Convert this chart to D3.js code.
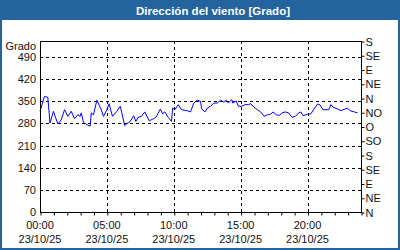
<!DOCTYPE html>
<html>
<head>
<meta charset="utf-8">
<script src="https://cdn.jsdelivr.net/npm/d3@7"></script>
<style>
  html, body { margin: 0; padding: 0; background: #fff; }
  svg { display: block; font-family: "Liberation Sans", Arial, sans-serif; }
</style>
</head>
<body>
<svg id="chart" width="400" height="250"></svg>
<script>
const W = 400
const H = 250
const title = 'Dirección del viento [Grado]'
const unitLabel = 'Grado'
const day = '2025-10-23'

// readings (time of day, degrees)
const times = ['00:00','00:20','00:35','00:45','01:00','01:20','01:35','01:50','02:05','02:20','02:35','02:50','03:00','03:05','03:15','03:35','03:45','03:50','04:00','04:15','04:35','04:45','05:00','05:10','05:25','05:45','06:00','06:20','06:30','06:45','07:00','07:10','07:20','07:35','07:50','08:10','08:30','08:40','09:00','09:10','09:20','09:35','09:50','09:55','10:05','10:20','10:35','11:00','11:15','11:30','11:45','12:00','12:05','12:20','12:30','12:45','13:00','13:15','13:30','13:45','13:55','14:05','14:20','14:25','14:40','14:50','15:05','15:20','15:35','15:45','16:00','16:15','16:30','16:45','17:00','17:15','17:25','17:40','17:55','18:05','18:20','18:35','18:50','19:05','19:20','19:30','19:40','20:00','20:15','20:30','20:45','20:55','21:10','21:35','21:45','21:55','22:15','22:30','22:40','23:00','23:10','23:30','23:45']
const values = [318,365,362,281,318,278,291,323,302,318,295,307,302,313,283,274,271,313,307,353,323,302,323,342,302,318,334,273,279,286,304,286,299,302,316,288,295,299,325,310,316,299,286,328,323,339,323,320,316,344,353,350,326,316,328,334,344,344,353,347,353,344,355,344,351,334,334,339,339,342,331,323,316,302,307,309,316,307,305,313,316,313,299,302,313,316,304,309,310,326,341,339,323,323,339,331,325,320,323,328,320,316,313]

const leftTicks = [0, 70, 140, 210, 280, 350, 420, 490]
const compassTicks = [0, 45, 90, 135, 180, 225, 270, 315, 360, 405, 450, 495, 540]
const compassLabels = ['N','NE','E','SE','S','SO','O','NO','N','NE','E','SE','S']
const xTickHours = [0, 5, 10, 15, 20]

const parse = d3.timeParse('%Y-%m-%d %H:%M')
const t0 = parse(day + ' 00:00')
const t1 = d3.timeDay.offset(t0, 1)
const data = times.map((t, i) => ({ t: parse(day + ' ' + t), v: values[i] }))

const svg = d3.select('#chart')
const L = 40, R = 361, T = 41, B = 212

const x = d3.scaleTime().domain([t0, t1]).range([L, R])
const y = d3.scaleLinear().domain([0, 540]).range([B, T])
const px = v => Math.round(v) + 0.5

// frame + title bar
svg.append('rect').attr('width', W).attr('height', H).attr('fill', '#fff')
svg.append('rect').attr('x', 1).attr('y', 1).attr('width', W - 2).attr('height', H - 2)
    .attr('fill', 'none').attr('stroke', '#24649e').attr('stroke-width', 2)
svg.append('rect').attr('width', W).attr('height', 20).attr('fill', '#24649e')
svg.append('text')
    .attr('x', 213).attr('y', 15)
    .attr('text-anchor', 'middle')
    .attr('fill', '#fff').attr('font-weight', 'bold').attr('font-size', '11.5px')
    .text(title)

// grid
const grid = svg.append('g').attr('stroke', '#000').attr('stroke-dasharray', '3 3')
grid.selectAll('.hg').data(leftTicks.slice(1)).enter().append('line')
    .attr('x1', L).attr('x2', R)
    .attr('y1', d => px(y(d))).attr('y2', d => px(y(d)))
grid.selectAll('.vg').data(xTickHours.slice(1)).enter().append('line')
    .attr('x1', d => px(x(d3.timeHour.offset(t0, d)))).attr('x2', d => px(x(d3.timeHour.offset(t0, d))))
    .attr('y1', T).attr('y2', B)

// series
svg.append('path')
    .datum(data)
    .attr('fill', 'none')
    .attr('stroke', '#0000ff')
    .attr('stroke-width', 1)
    .attr('d', d3.line().x(d => x(d.t)).y(d => y(d.v)))

// plot border
svg.append('rect')
    .attr('x', px(L)).attr('y', px(T)).attr('width', R - L).attr('height', B - T)
    .attr('fill', 'none').attr('stroke', '#000')

// left axis labels
const lab = svg.append('g').attr('font-size', '11px').attr('fill', '#111')
lab.selectAll('.yl').data(leftTicks).enter().append('text')
    .attr('x', 36).attr('y', d => y(d) + 4)
    .attr('text-anchor', 'end')
    .text(d => d)
lab.append('text').attr('x', 36).attr('y', 50).attr('text-anchor', 'end').text(unitLabel)

// right compass axis
svg.append('g')
    .attr('transform', `translate(${px(R)},0.5)`)
    .call(d3.axisRight(y).tickValues(compassTicks).tickSize(3).tickPadding(1)
        .tickFormat((d, i) => compassLabels[i]))
    .call(g => g.select('.domain').remove())
    .call(g => g.selectAll('text').attr('font-family', null).attr('font-size', '11px').attr('fill', '#111'))

// bottom axis: hourly ticks, labels every 5 h
svg.append('g')
    .attr('transform', `translate(0.5,${px(B)})`)
    .call(d3.axisBottom(x).ticks(d3.timeHour.every(1)).tickSize(3).tickFormat(''))
    .call(g => g.select('.domain').remove())
const fmtT = d3.timeFormat('%H:%M')
const fmtD = d3.timeFormat('%d/%m/%y')
const xl = lab.selectAll('.xl').data(xTickHours).enter().append('text')
    .attr('text-anchor', 'middle')
xl.append('tspan').attr('x', d => x(d3.timeHour.offset(t0, d))).attr('y', 229)
    .text(d => fmtT(d3.timeHour.offset(t0, d)))
xl.append('tspan').attr('x', d => x(d3.timeHour.offset(t0, d))).attr('y', 243)
    .text(d => fmtD(d3.timeHour.offset(t0, d)))
</script>
</body>
</html>
